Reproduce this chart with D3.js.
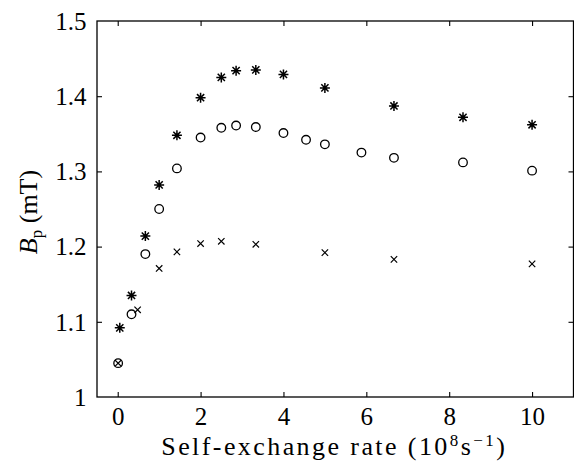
<!DOCTYPE html>
<html>
<head>
<meta charset="utf-8">
<script src="https://cdn.jsdelivr.net/npm/d3@7"></script>
<style>
  html, body { margin: 0; padding: 0; background: #fff; }
  svg { display: block; }
</style>
</head>
<body>
<svg id="chart" width="574" height="467"></svg>
<script>
// rate (10^8 s^-1) and Bp (mT)
const starX = [0.05, 0.333, 0.667, 1, 1.429, 2, 2.5, 2.857, 3.333, 4, 5, 6.667, 8.333, 10];
const starY = [1.092, 1.135, 1.214, 1.282, 1.348, 1.398, 1.425, 1.434, 1.435, 1.429, 1.411, 1.387, 1.372, 1.362];

const circX = [0.01, 0.333, 0.667, 1, 1.429, 2, 2.5, 2.857, 3.333, 4, 4.545, 5, 5.882, 6.667, 8.333, 10];
const circY = [1.045, 1.110, 1.190, 1.250, 1.304, 1.345, 1.358, 1.361, 1.359, 1.351, 1.342, 1.336, 1.325, 1.318, 1.312, 1.301];

const crossX = [0.01, 0.48, 1, 1.429, 2, 2.5, 3.333, 5, 6.667, 10];
const crossY = [1.045, 1.116, 1.171, 1.193, 1.204, 1.207, 1.203, 1.192, 1.183, 1.177];

const xTicks = [0, 2, 4, 6, 8, 10];
const yTicks = [1, 1.1, 1.2, 1.3, 1.4, 1.5];

const FONT = '"Liberation Serif", "Times New Roman", serif';
const svg = d3.select('#chart').style('font-family', FONT);
const L = 97, R = 573.5, T = 21, B = 397;

const x = d3.scaleLinear().domain([-0.5, 11]).range([L, R]);
const y = d3.scaleLinear().domain([1, 1.5]).range([B, T]);

const fmtY = d => d === 1 ? '1' : d.toFixed(1);
const tickLen = 5;
const tickFs = 25;

// frame
svg.append('rect')
  .attr('x', L).attr('y', T).attr('width', R - L).attr('height', B - T)
  .attr('fill', 'none').attr('stroke', '#000').attr('stroke-width', 1.3);

// axes (ticks inward on all four sides)
const axB = svg.append('g').attr('transform', `translate(0,${B})`)
  .call(d3.axisBottom(x).tickValues(xTicks).tickSizeInner(-tickLen).tickSizeOuter(0).tickPadding(0));
const axT = svg.append('g').attr('transform', `translate(0,${T})`)
  .call(d3.axisTop(x).tickValues(xTicks).tickSizeInner(-tickLen).tickSizeOuter(0).tickFormat(''));
const axL = svg.append('g').attr('transform', `translate(${L},0)`)
  .call(d3.axisLeft(y).tickValues(yTicks).tickSizeInner(-tickLen).tickSizeOuter(0).tickPadding(10).tickFormat(fmtY));
const axR = svg.append('g').attr('transform', `translate(${R},0)`)
  .call(d3.axisRight(y).tickValues(yTicks).tickSizeInner(-tickLen).tickSizeOuter(0).tickFormat(''));

[axB, axT, axL, axR].forEach(g => {
  g.attr('font-family', null).attr('font-size', null);
  g.select('.domain').remove();
  g.selectAll('.tick line').attr('stroke', '#000').attr('stroke-width', 1.1);
  g.selectAll('.tick text')
    .style('font-family', FONT)
    .attr('font-size', tickFs).attr('fill', '#000');
});
axB.selectAll('.tick text').attr('y', 28).attr('dy', null);
axL.selectAll('.tick text').attr('x', -10.5).attr('dy', '0.33em');
// corner ticks sit on the frame
axL.selectAll('.tick line').filter(d => d === 1 || d === 1.5).remove();
axR.selectAll('.tick line').filter(d => d === 1 || d === 1.5).remove();

// markers
const pts = (xs, ys) => xs.map((v, i) => [x(v), y(ys[i])]);

svg.append('g').selectAll('circle')
  .data(pts(circX, circY)).join('circle')
  .attr('cx', d => d[0]).attr('cy', d => d[1]).attr('r', 4.3)
  .attr('fill', 'none').attr('stroke', '#000').attr('stroke-width', 1.3);

const cr = 3.2;
svg.append('g').selectAll('path')
  .data(pts(crossX, crossY)).join('path')
  .attr('d', d => `M${d[0]-cr},${d[1]-cr}L${d[0]+cr},${d[1]+cr}M${d[0]-cr},${d[1]+cr}L${d[0]+cr},${d[1]-cr}`)
  .attr('stroke', '#000').attr('stroke-width', 1.2).attr('fill', 'none');

const sr = 5, sd = sr * 0.72;
svg.append('g').selectAll('path')
  .data(pts(starX, starY)).join('path')
  .attr('d', d => `M${d[0]-sr},${d[1]}L${d[0]+sr},${d[1]}M${d[0]},${d[1]-sr}L${d[0]},${d[1]+sr}` +
                  `M${d[0]-sd},${d[1]-sd}L${d[0]+sd},${d[1]+sd}M${d[0]-sd},${d[1]+sd}L${d[0]+sd},${d[1]-sd}`)
  .attr('stroke', '#000').attr('stroke-width', 1.5).attr('fill', 'none');

// x label; a little letter spacing widens it to the span it has in the figure
const labFs = 26, supFs = 17, up = 9;
const xl = svg.append('text')
  .style('font-family', FONT)
  .attr('x', (L + R) / 2 - 1).attr('y', 455)
  .attr('text-anchor', 'middle').attr('font-size', labFs);
xl.append('tspan').text('Self-exchange rate (10');
xl.append('tspan').attr('font-size', supFs).attr('dy', -up).text('8');
xl.append('tspan').attr('dy', up).text('s');
xl.append('tspan').attr('font-size', supFs).attr('dy', -up).text('−1');
xl.append('tspan').attr('dy', up).text(')');
const nChars = 'Self-exchange rate (108s−1)'.length;
const extra = (346 - xl.node().getComputedTextLength()) / nChars;
if (extra > 0) xl.style('letter-spacing', `${extra}px`);

// y label
const yl = svg.append('text')
  .style('font-family', FONT)
  .attr('transform', `translate(37,212) rotate(-90)`)
  .attr('text-anchor', 'middle').attr('font-size', labFs);
yl.append('tspan').attr('font-style', 'italic').text('B');
yl.append('tspan').attr('font-size', supFs).attr('dy', 5).text('p');
yl.append('tspan').attr('dy', -5).text(' (mT)');
</script>
</body>
</html>
